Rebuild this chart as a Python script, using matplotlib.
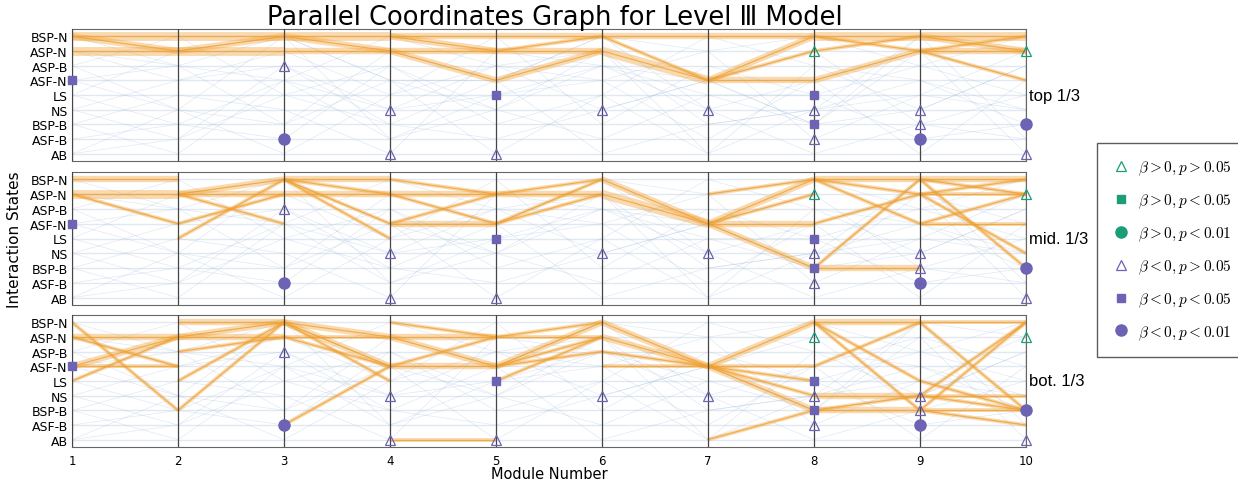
import numpy as np
import matplotlib
matplotlib.use("Agg")
import matplotlib.pyplot as plt
from matplotlib.lines import Line2D

plt.rcParams['font.family'] = ['DejaVu Sans']
plt.rcParams['mathtext.fontset'] = 'cm'

# states from bottom (0) to top (8)
states = ['AB', 'ASF-B', 'BSP-B', 'NS', 'LS', 'ASF-N', 'ASP-B', 'ASP-N', 'BSP-N']
modules = list(range(1, 11))
panel_names = ['top 1/3', 'mid. 1/3', 'bot. 1/3']

# orange segments: (from module, from state, to state, weight)
top_edges = [
    (1, 'BSP-N', 'BSP-N', 3), (1, 'BSP-N', 'ASP-N', 2), (1, 'ASP-N', 'ASP-N', 3),
    (2, 'BSP-N', 'BSP-N', 3), (2, 'ASP-N', 'BSP-N', 2), (2, 'ASP-N', 'ASP-N', 3),
    (3, 'BSP-N', 'BSP-N', 3), (3, 'BSP-N', 'ASP-N', 2), (3, 'ASP-N', 'ASP-N', 2),
    (4, 'BSP-N', 'BSP-N', 2), (4, 'BSP-N', 'ASP-N', 2), (4, 'ASP-N', 'ASP-N', 2),
    (4, 'ASP-N', 'ASF-N', 2),
    (5, 'BSP-N', 'BSP-N', 2), (5, 'ASP-N', 'BSP-N', 1), (5, 'ASP-N', 'ASP-N', 2),
    (5, 'ASF-N', 'ASP-N', 2),
    (6, 'BSP-N', 'BSP-N', 2), (6, 'BSP-N', 'ASF-N', 1), (6, 'ASP-N', 'ASF-N', 3),
    (7, 'BSP-N', 'BSP-N', 2), (7, 'ASF-N', 'BSP-N', 2), (7, 'ASF-N', 'ASP-N', 1),
    (7, 'ASF-N', 'ASF-N', 2),
    (8, 'BSP-N', 'BSP-N', 3), (8, 'BSP-N', 'ASP-N', 1), (8, 'ASP-N', 'BSP-N', 1),
    (8, 'ASF-N', 'ASP-N', 2),
    (9, 'BSP-N', 'BSP-N', 3), (9, 'BSP-N', 'ASP-N', 2), (9, 'ASP-N', 'BSP-N', 1),
    (9, 'ASP-N', 'ASP-N', 2), (9, 'ASP-N', 'ASF-N', 1),
]
mid_edges = [
    (1, 'BSP-N', 'BSP-N', 2), (1, 'ASP-N', 'ASP-N', 3), (1, 'ASP-N', 'ASF-N', 1),
    (2, 'ASP-N', 'BSP-N', 2), (2, 'ASP-N', 'ASP-N', 2), (2, 'ASP-N', 'ASF-N', 1),
    (2, 'ASF-N', 'ASP-N', 1), (2, 'LS', 'BSP-N', 1),
    (3, 'BSP-N', 'BSP-N', 2), (3, 'BSP-N', 'ASP-N', 1), (3, 'BSP-N', 'ASF-N', 1),
    (3, 'ASP-N', 'ASP-N', 2), (3, 'BSP-N', 'LS', 1),
    (4, 'BSP-N', 'ASP-N', 1), (4, 'ASP-N', 'ASP-N', 2), (4, 'ASP-N', 'ASF-N', 1),
    (4, 'ASF-N', 'ASP-N', 1), (4, 'ASF-N', 'ASF-N', 2),
    (5, 'ASP-N', 'ASP-N', 2), (5, 'ASP-N', 'BSP-N', 1), (5, 'ASF-N', 'BSP-N', 1),
    (5, 'ASF-N', 'ASP-N', 1),
    (6, 'BSP-N', 'ASF-N', 2), (6, 'ASP-N', 'ASF-N', 3),
    (7, 'ASF-N', 'BSP-N', 2), (7, 'ASF-N', 'ASP-N', 1), (7, 'ASF-N', 'ASF-N', 2),
    (7, 'ASF-N', 'BSP-B', 2), (7, 'ASP-N', 'BSP-N', 1),
    (8, 'BSP-N', 'BSP-N', 2), (8, 'BSP-N', 'ASP-N', 1), (8, 'BSP-N', 'ASF-N', 1),
    (8, 'ASF-N', 'ASP-N', 1), (8, 'BSP-B', 'BSP-B', 2), (8, 'BSP-B', 'BSP-N', 1),
    (9, 'BSP-N', 'BSP-N', 2), (9, 'BSP-N', 'ASP-N', 1), (9, 'ASP-N', 'BSP-N', 1),
    (9, 'ASP-N', 'ASP-N', 1), (9, 'ASF-N', 'ASP-N', 1), (9, 'ASF-N', 'ASF-N', 1),
    (9, 'BSP-N', 'BSP-B', 1), (9, 'ASP-N', 'NS', 1),
]
bot_edges = [
    (1, 'BSP-N', 'BSP-B', 1), (1, 'ASP-N', 'ASP-N', 2), (1, 'ASP-N', 'ASF-N', 1),
    (1, 'ASF-N', 'ASP-N', 2), (1, 'ASF-N', 'ASF-N', 1), (1, 'LS', 'ASP-N', 1),
    (2, 'BSP-N', 'BSP-N', 2), (2, 'ASP-N', 'BSP-N', 2), (2, 'ASP-N', 'ASP-N', 2),
    (2, 'ASP-B', 'ASP-N', 1), (2, 'LS', 'BSP-N', 1), (2, 'BSP-B', 'BSP-N', 1),
    (3, 'BSP-N', 'ASP-N', 2), (3, 'BSP-N', 'ASF-N', 2), (3, 'BSP-N', 'LS', 1),
    (3, 'ASP-N', 'ASP-N', 1), (3, 'ASP-N', 'ASF-N', 1), (3, 'ASF-B', 'ASF-N', 1),
    (4, 'BSP-N', 'ASP-N', 1), (4, 'ASP-N', 'ASP-N', 2), (4, 'ASP-N', 'ASF-N', 2),
    (4, 'ASF-N', 'ASF-N', 2), (4, 'ASF-N', 'ASP-N', 1), (4, 'AB', 'AB', 1),
    (5, 'ASP-N', 'BSP-N', 1), (5, 'ASP-N', 'ASP-N', 1), (5, 'ASF-N', 'BSP-N', 2),
    (5, 'ASF-N', 'ASP-N', 1), (5, 'ASF-N', 'ASP-B', 1), (5, 'LS', 'ASP-N', 1),
    (6, 'BSP-N', 'ASF-N', 2), (6, 'ASP-N', 'ASF-N', 2), (6, 'ASP-B', 'ASF-N', 1),
    (6, 'ASF-N', 'ASF-N', 1),
    (7, 'ASF-N', 'BSP-N', 2), (7, 'ASF-N', 'ASF-N', 1), (7, 'ASF-N', 'LS', 1),
    (7, 'ASF-N', 'NS', 1), (7, 'ASF-N', 'BSP-B', 2), (7, 'AB', 'BSP-B', 1),
    (8, 'BSP-N', 'BSP-N', 2), (8, 'BSP-N', 'LS', 1), (8, 'BSP-N', 'BSP-B', 1),
    (8, 'ASF-N', 'BSP-N', 1), (8, 'NS', 'NS', 2), (8, 'BSP-B', 'BSP-B', 2),
    (8, 'BSP-B', 'NS', 1),
    (9, 'BSP-N', 'BSP-N', 1), (9, 'BSP-N', 'BSP-B', 1), (9, 'NS', 'BSP-N', 1),
    (9, 'NS', 'NS', 1), (9, 'NS', 'BSP-B', 1), (9, 'BSP-B', 'BSP-N', 1),
    (9, 'BSP-B', 'BSP-B', 1), (9, 'BSP-B', 'ASF-B', 1), (9, 'LS', 'BSP-B', 1),
]
panel_edges = [top_edges, mid_edges, bot_edges]

# faint background paths (state index per module)
blue_paths = [
    [7, 6, 8, 5, 5, 8, 7, 8, 6, 4],
    [7, 5, 6, 3, 4, 6, 5, 2, 8, 7],
    [4, 7, 8, 5, 3, 7, 0, 3, 5, 2],
    [4, 2, 5, 8, 6, 3, 5, 7, 2, 1],
    [5, 6, 2, 7, 5, 8, 3, 5, 7, 5],
    [6, 3, 8, 1, 4, 5, 7, 1, 4, 3],
    [3, 5, 7, 4, 8, 2, 6, 4, 1, 2],
    [1, 2, 1, 6, 2, 4, 0, 6, 3, 6],
    [2, 4, 3, 0, 7, 6, 3, 0, 2, 4],
    [0, 1, 4, 2, 1, 3, 5, 2, 7, 0],
    [8, 6, 5, 3, 6, 7, 2, 3, 4, 7],
    [5, 3, 2, 5, 0, 4, 8, 6, 5, 3],
    [6, 8, 4, 6, 3, 1, 4, 4, 6, 8],
    [3, 1, 6, 2, 5, 0, 2, 3, 8, 1],
    [0, 3, 0, 4, 6, 5, 1, 5, 0, 5],
    [2, 0, 5, 1, 3, 6, 4, 2, 3, 6],
]

# significance markers: (module, state, kind) -- same on all panels
marks = [
    (1, 'ASF-N', 'neg05'),
    (3, 'ASP-B', 'negns'), (3, 'ASF-B', 'neg01'),
    (4, 'NS', 'negns'), (4, 'AB', 'negns'),
    (5, 'LS', 'neg05'), (5, 'AB', 'negns'),
    (6, 'NS', 'negns'), (7, 'NS', 'negns'),
    (8, 'ASP-N', 'posns'), (8, 'LS', 'neg05'), (8, 'NS', 'negns'),
    (8, 'BSP-B', 'neg05'), (8, 'ASF-B', 'negns'),
    (9, 'NS', 'negns'), (9, 'BSP-B', 'negns'), (9, 'ASF-B', 'neg01'),
    (10, 'ASP-N', 'posns'), (10, 'BSP-B', 'neg01'), (10, 'AB', 'negns'),
]

green = '#1b9e77'
purple = '#6c63b5'
orange = '#f0a030'
kind_style = {
    'posns': dict(marker='^', mfc='none', mec=green, ms=7, mew=0.9),
    'pos05': dict(marker='s', mfc=green, mec=green, ms=6),
    'pos01': dict(marker='o', mfc=green, mec=green, ms=8),
    'negns': dict(marker='^', mfc='none', mec=purple, ms=7, mew=0.9),
    'neg05': dict(marker='s', mfc=purple, mec=purple, ms=6),
    'neg01': dict(marker='o', mfc=purple, mec=purple, ms=8),
}

fig = plt.figure(figsize=(12.38, 4.81), dpi=100)
W, H = 1238, 481
panel_px = [(30, 162), (173, 306), (316, 448)]
x0, x1 = 72, 1026

axes = []
for k, (ytop, ybot) in enumerate(panel_px):
    ax = fig.add_axes([x0 / W, 1 - ybot / H, (x1 - x0) / W, (ybot - ytop) / H])
    axes.append(ax)
    for s in range(len(states)):
        ax.axhline(s, color='#e2e8f0', lw=1.0, zorder=0)
    for path in blue_paths:
        ax.plot(modules, path, color='#9ab8dc', lw=0.5, alpha=0.3, zorder=1)
    for m, a, b, w in panel_edges[k]:
        ya, yb = states.index(a), states.index(b)
        ax.plot([m, m + 1], [ya, yb], color=orange, lw=1.0 + 1.8 * w,
                alpha=0.38, solid_capstyle='butt', zorder=2)
        ax.plot([m, m + 1], [ya, yb], color=orange, lw=0.9, alpha=0.75, zorder=3)
    for m in modules:
        ax.axvline(m, color='#454545', lw=0.9, zorder=4)
    for m, s, kind in marks:
        ax.plot(m, states.index(s), linestyle='none', clip_on=False, zorder=5,
                **kind_style[kind])
    ax.set_xlim(1, 10)
    ax.set_ylim(-0.5, 8.5)
    ax.set_yticks(range(len(states)))
    ax.set_yticklabels(states, fontsize=9)
    ax.set_xticks(modules)
    ax.tick_params(length=0, pad=3)
    for sp in ax.spines.values():
        sp.set_color('#666666')
    if k < 2:
        ax.set_xticklabels([])
    else:
        ax.tick_params(axis='x', labelsize=8.5, pad=5)
        ax.set_xlabel('Module Number', fontsize=10.5, labelpad=-1)
    ax.text(1.003, 0.5, panel_names[k], transform=ax.transAxes, fontsize=12,
            family='Liberation Sans', va='center', ha='left')

axes[1].set_ylabel('Interaction States', fontsize=11, labelpad=6)
fig.text(0.5 * (x0 + x1) / W + 0.005, 1 - 18 / H, 'Parallel Coordinates Graph for Level Ⅲ Model',
         ha='center', va='center', fontsize=18.5)

labels = [r'$\beta > 0, p > 0.05$', r'$\beta > 0, p < 0.05$', r'$\beta > 0, p < 0.01$',
          r'$\beta < 0, p > 0.05$', r'$\beta < 0, p < 0.05$', r'$\beta < 0, p < 0.01$']
kinds = ['posns', 'pos05', 'pos01', 'negns', 'neg05', 'neg01']
handles = [Line2D([], [], linestyle='none', **kind_style[kd]) for kd in kinds]
leg = fig.legend(handles, labels, loc='center left',
                 bbox_to_anchor=(1097 / W, 1 - 251 / H), fontsize=11,
                 frameon=True, fancybox=False, edgecolor='#333333',
                 labelspacing=0.95, handletextpad=0.5, borderpad=1.0,
                 handlelength=1.2, borderaxespad=0)
leg.get_frame().set_linewidth(1.0)

fig.savefig('out.png', dpi=100)
